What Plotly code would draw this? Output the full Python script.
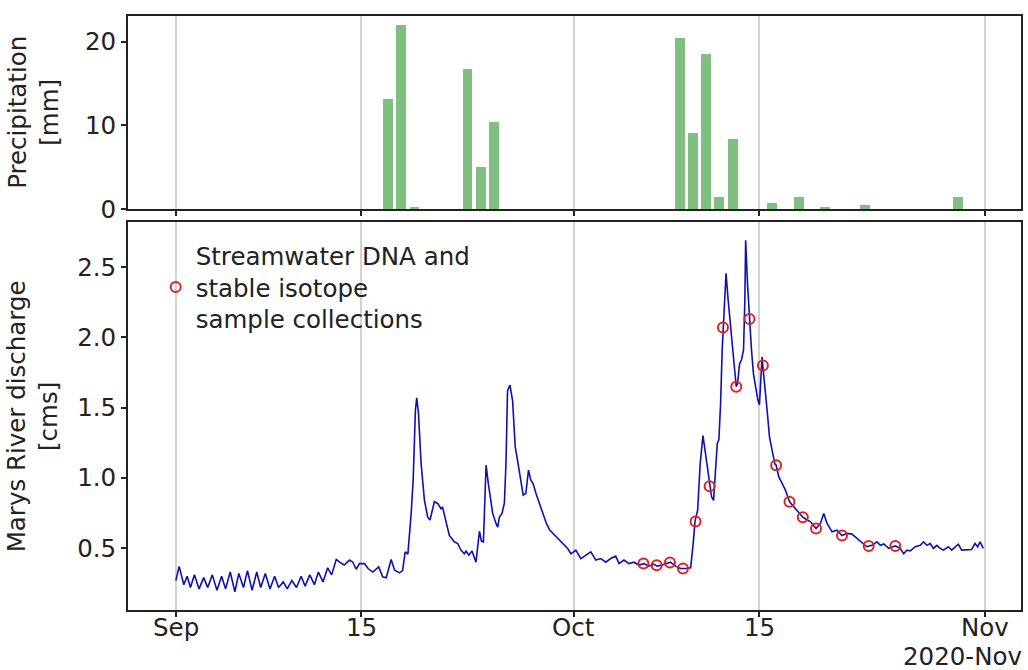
import pandas as pd
import plotly.graph_objects as go
from plotly.subplots import make_subplots

START = pd.Timestamp("2020-09-01")

# Daily precipitation (mm): date -> value
precip_dates = ["2020-09-17", "2020-09-18", "2020-09-19", "2020-09-23", "2020-09-24", "2020-09-25",
                "2020-10-09", "2020-10-10", "2020-10-11", "2020-10-12", "2020-10-13",
                "2020-10-16", "2020-10-18", "2020-10-20", "2020-10-23", "2020-10-30"]
precip_mm = [13.2, 22.0, 0.2, 16.7, 5.0, 10.4,
             20.5, 9.1, 18.5, 1.5, 8.35,
             0.75, 1.5, 0.25, 0.45, 1.5]

# Marys River discharge (cms): days since 2020-09-01 and value
discharge_day = [
    0.00, 0.25, 0.60, 0.85, 1.10, 1.40, 1.75, 2.10, 2.40, 2.75, 3.10, 3.45, 3.75, 4.10, 4.45, 4.75,
    5.10, 5.40, 5.75, 6.10, 6.40, 6.75, 7.10, 7.45, 7.75, 8.10, 8.40, 8.75, 9.10, 9.45, 9.75, 10.10,
    10.45, 10.75, 11.10, 11.45, 11.75, 12.10, 12.35, 12.70, 13.10, 13.35, 13.60, 13.85, 14.23, 14.50,
    14.86, 15.30, 15.60, 15.87, 16.24, 16.50, 16.87, 17.10, 17.30, 17.50, 17.75, 17.90, 18.07, 18.17,
    18.30, 18.50, 18.75, 19.00, 19.17, 19.33, 19.50, 19.75, 20.00, 20.12, 20.33, 20.63, 21.00, 21.26,
    21.50, 21.76, 21.89, 22.10, 22.34, 22.64, 22.90, 23.05, 23.20, 23.40, 23.57, 23.90, 24.15, 24.28,
    24.40, 24.60, 24.78, 24.90, 25.02, 25.20, 25.40, 25.60, 25.77, 26.03, 26.20, 26.40, 26.60, 26.78,
    26.95, 27.16, 27.41, 27.70, 27.95, 28.20, 28.80, 29.20, 29.55, 29.80, 30.17, 30.55, 30.92, 31.30,
    31.68, 32.05, 32.43, 32.80, 33.18, 33.43, 33.80, 34.18, 34.56, 34.93, 35.30, 35.68, 36.05, 36.30,
    36.68, 37.05, 37.30, 37.70, 38.07, 38.45, 38.83, 39.02, 39.16, 39.36, 39.55, 39.76, 39.91, 40.08,
    40.26, 40.41, 40.56, 40.71, 40.84, 40.96, 41.09, 41.21, 41.31, 41.41, 41.50, 41.66, 41.84, 42.01,
    42.17, 42.27, 42.37, 42.52, 42.67, 42.82, 42.92, 42.98, 43.12, 43.27, 43.42, 43.57, 43.72, 43.90,
    44.02, 44.12, 44.22, 44.27, 44.42, 44.60, 44.78, 44.97, 45.18, 45.28, 45.48, 45.73, 45.98, 46.29,
    46.61, 46.86, 47.29, 47.61, 47.87, 48.29, 48.62, 48.87, 49.12, 49.50, 49.87, 50.25, 50.63, 51.00,
    51.38, 51.75, 52.12, 52.50, 52.88, 53.14, 53.40, 53.77, 54.27, 54.64, 54.90, 55.14, 55.40, 55.77,
    56.15, 56.40, 56.65, 56.90, 57.15, 57.40, 57.65, 57.90, 58.27, 58.52, 58.77, 59.02, 59.27, 59.65,
    60.02, 60.28, 60.48, 60.66, 60.91]
discharge_cms = [
    0.27, 0.37, 0.24, 0.30, 0.22, 0.31, 0.21, 0.29, 0.22, 0.31, 0.20, 0.30, 0.21, 0.33, 0.19, 0.32,
    0.22, 0.34, 0.20, 0.33, 0.22, 0.32, 0.21, 0.30, 0.22, 0.26, 0.21, 0.27, 0.22, 0.30, 0.23, 0.31,
    0.24, 0.33, 0.26, 0.36, 0.31, 0.42, 0.40, 0.38, 0.415, 0.40, 0.35, 0.39, 0.39, 0.355,
    0.33, 0.367, 0.296, 0.29, 0.42, 0.343, 0.324, 0.34, 0.474, 0.457, 0.747, 0.984, 1.48, 1.57,
    1.46, 1.10, 0.84, 0.72, 0.70, 0.76, 0.83, 0.818, 0.78, 0.79, 0.70, 0.59, 0.545, 0.533,
    0.486, 0.46, 0.48, 0.45, 0.48, 0.40, 0.62, 0.55, 0.545, 1.09, 0.96, 0.747, 0.676, 0.65,
    0.72, 0.747, 0.82, 1.10, 1.62, 1.66, 1.55, 1.22, 1.126, 0.984, 0.877, 0.89, 1.055, 0.984,
    0.96, 0.89, 0.818, 0.747, 0.676, 0.628, 0.57, 0.533, 0.498, 0.46, 0.486, 0.426, 0.45, 0.474,
    0.415, 0.426, 0.40, 0.426, 0.443, 0.39, 0.415, 0.39, 0.40, 0.38, 0.39, 0.372, 0.386, 0.372,
    0.38, 0.395, 0.40, 0.372, 0.355, 0.355, 0.36, 0.53, 0.69, 0.77, 1.10, 1.30, 1.197, 1.08,
    0.94, 0.865, 0.84, 1.10, 1.245, 1.27, 1.53, 1.91, 2.07, 2.265, 2.455, 2.265, 2.075, 1.886,
    1.72, 1.648, 1.67, 1.81, 1.84, 1.91, 2.265, 2.69, 2.38, 2.13, 1.91, 1.74, 1.648, 1.553,
    1.52, 1.72, 1.86, 1.80, 1.67, 1.48, 1.29, 1.197, 1.10, 1.09, 1.007, 0.96, 0.913, 0.83,
    0.794, 0.77, 0.72, 0.70, 0.687, 0.64, 0.676, 0.747, 0.676, 0.616, 0.628, 0.59, 0.605, 0.60,
    0.57, 0.545, 0.51, 0.52, 0.545, 0.52, 0.53, 0.498, 0.516, 0.498, 0.46, 0.486, 0.48, 0.51,
    0.52, 0.545, 0.52, 0.533, 0.498, 0.52, 0.498, 0.486, 0.51, 0.486, 0.51, 0.528, 0.486, 0.486,
    0.49, 0.533, 0.51, 0.545, 0.498]

# Sample collections: days since 2020-09-01 and discharge at sampling
sample_day = [35.27, 36.27, 37.27, 38.25, 39.20, 40.26, 41.27, 42.27, 43.27, 44.28, 45.28,
              46.29, 47.29, 48.29, 50.25, 52.26, 54.27]
sample_cms = [0.39, 0.379, 0.398, 0.356, 0.69, 0.94, 2.07, 1.648, 2.13, 1.80, 1.09,
              0.83, 0.72, 0.64, 0.59, 0.516, 0.516]

x_tick_dates = ["2020-09-01", "2020-09-15", "2020-10-01", "2020-10-15", "2020-11-01"]
x_tick_labels = ["Sep", "15", "Oct", "15", "Nov"]
offset_label = "2020-Nov"

FONT = "DejaVu Sans"
FS = 24.5
INK = "#222222"

def to_time(days):
    return START + pd.to_timedelta(days, unit="D")

fig = make_subplots(rows=2, cols=1, shared_xaxes=True, vertical_spacing=0.0)

fig.add_trace(go.Bar(x=pd.to_datetime(precip_dates), y=precip_mm,
                     width=0.75 * 86400000, marker_color="rgb(127,191,127)",
                     marker_line_width=0, showlegend=False), row=1, col=1)

fig.add_trace(go.Scatter(x=to_time(discharge_day), y=discharge_cms, mode="lines",
                         line=dict(color="#1010b0", width=1.6), showlegend=False,
                         hoverinfo="skip"), row=2, col=1)

fig.add_trace(go.Scatter(x=to_time(sample_day), y=sample_cms, mode="markers",
                         marker=dict(symbol="circle-open", size=10, color="#dd2222",
                                     line=dict(width=2, color="#dd2222")),
                         name="Streamwater DNA and<br>stable isotope<br>sample collections",
                         showlegend=True), row=2, col=1)

xrange = [to_time(-3.61), to_time(63.75)]
fig.update_xaxes(range=xrange, tickvals=pd.to_datetime(x_tick_dates), showticklabels=False,
                 showgrid=True, gridcolor="#d3d3d3", gridwidth=1.5,
                 showline=True, linecolor=INK, linewidth=1.8, mirror=True,
                 ticks="outside", ticklen=5, tickwidth=1.8, tickcolor=INK, zeroline=False)
fig.update_yaxes(showline=True, linecolor=INK, linewidth=1.8, mirror=True,
                 ticks="outside", ticklen=5, tickwidth=1.8, tickcolor=INK,
                 showgrid=False, zeroline=False,
                 tickfont=dict(family=FONT, size=FS, color=INK))
fig.update_yaxes(range=[0, 23.1], tickvals=[0, 10, 20], row=1, col=1)
fig.update_yaxes(range=[0.06, 2.82], tickvals=[0.5, 1.0, 1.5, 2.0, 2.5], tickformat=".1f",
                 row=2, col=1)

annotations = [
    dict(text="Precipitation<br>[mm]", xref="paper", yref="paper", x=-0.106, y=0.8375,
         textangle=-90, showarrow=False, xanchor="center", yanchor="middle",
         font=dict(family=FONT, size=FS, color=INK)),
    dict(text="Marys River discharge<br>[cms]", xref="paper", yref="paper", x=-0.106, y=0.3266,
         textangle=-90, showarrow=False, xanchor="center", yanchor="middle",
         font=dict(family=FONT, size=FS, color=INK)),
    dict(text=offset_label, xref="paper", yref="paper", x=1.003, y=-0.0791,
         showarrow=False, xanchor="right", yanchor="middle",
         font=dict(family=FONT, size=FS, color=INK)),
]
for d, lab in zip(x_tick_dates, x_tick_labels):
    annotations.append(dict(text=lab, xref="x2", yref="paper", x=pd.Timestamp(d), y=-0.0295,
                            showarrow=False, xanchor="center", yanchor="middle",
                            font=dict(family=FONT, size=FS, color=INK)))

fig.update_layout(
    width=1028, height=670,
    margin=dict(l=128, r=5, t=16, b=60),
    plot_bgcolor="white", paper_bgcolor="white",
    font=dict(family=FONT, size=FS, color=INK),
    yaxis=dict(domain=[0.675, 1.0]),
    yaxis2=dict(domain=[0.0, 0.6532]),
    legend=dict(x=0.031, y=0.635, xanchor="left", yanchor="top",
                bgcolor="rgba(0,0,0,0)", borderwidth=0, valign="middle",
                font=dict(family=FONT, size=FS, color=INK)),
    bargap=0,
    annotations=annotations,
)

fig.write_html("out.html")
